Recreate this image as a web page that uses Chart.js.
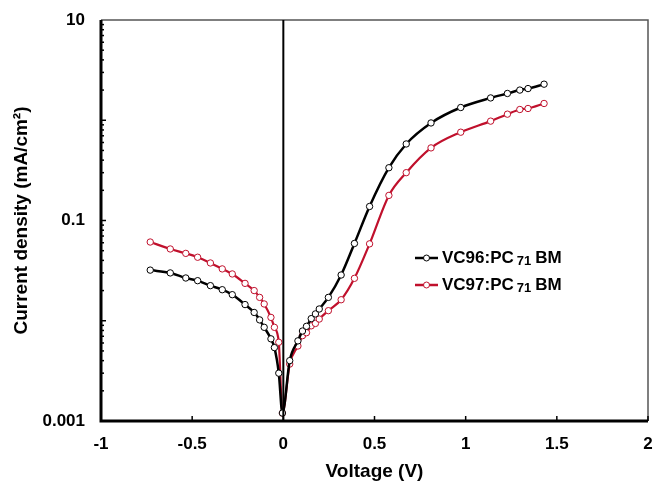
<!DOCTYPE html>
<html>
<head>
<meta charset="utf-8">
<script src="https://cdn.jsdelivr.net/npm/chart.js@4.4.0/dist/chart.umd.min.js"></script>
<style>
  html, body { margin: 0; padding: 0; background: #fff; }
  #wrap { width: 654px; height: 483px; }
</style>
</head>
<body>
<div id="wrap"><canvas id="jvChart" width="654" height="483"></canvas></div>
<script>
// voltage (V) shared by both curves
const voltage = [-0.73, -0.62, -0.535, -0.47, -0.40, -0.335, -0.28, -0.21, -0.16, -0.13,
  -0.105, -0.068, -0.049, -0.025, -0.005, 0.035, 0.08, 0.105, 0.127, 0.153,
  0.176, 0.197, 0.247, 0.317, 0.39, 0.473, 0.579, 0.674, 0.81, 0.973,
  1.137, 1.229, 1.297, 1.342, 1.43];

// current density (mA/cm2)
const vc96 = [0.032, 0.030, 0.0267, 0.0251, 0.0224, 0.0204, 0.0182, 0.0145, 0.0121, 0.0102,
  0.0086, 0.0066, 0.0054, 0.003, 0.0012, 0.004, 0.0063, 0.0079, 0.0088, 0.0105,
  0.0117, 0.0131, 0.0171, 0.0286, 0.059, 0.138, 0.336, 0.58, 0.94, 1.34,
  1.67, 1.85, 2.0, 2.07, 2.29];

const vc97 = [0.061, 0.052, 0.047, 0.043, 0.0377, 0.0329, 0.0293, 0.0236, 0.020, 0.0171,
  0.0147, 0.0108, 0.0086, 0.0061, 0.0012, 0.0037, 0.0056, 0.0071, 0.0076, 0.0089,
  0.0094, 0.0104, 0.0126, 0.0162, 0.0265, 0.0585, 0.178, 0.30, 0.53, 0.76,
  0.98, 1.15, 1.28, 1.31, 1.47];

const seriesNames = ["VC96:PC|71|BM", "VC97:PC|71|BM"];
const seriesColors = ["#000000", "#c0102c"];

const xTicks = [-1, -0.5, 0, 0.5, 1, 1.5, 2];
const yLabelled = [10, 0.1, 0.001];

function toPoints(ys) {
  return voltage.map((v, i) => ({ x: v, y: ys[i] }));
}

const FONT = "'Liberation Sans', Arial, sans-serif";

// frame, zero line, inner ticks and the legend
const framePlugin = {
  id: "frame",
  afterDatasetsDraw(chart) {
    const { ctx, chartArea: a, scales } = chart;
    const xs = scales.x, ys = scales.y;
    ctx.save();

    // top + right thin border
    ctx.strokeStyle = "#555";
    ctx.lineWidth = 1.5;
    ctx.beginPath();
    ctx.moveTo(a.left, a.top);
    ctx.lineTo(a.right, a.top);
    ctx.lineTo(a.right, a.bottom);
    ctx.stroke();

    // x = 0 line
    const x0 = xs.getPixelForValue(0);
    ctx.strokeStyle = "#000";
    ctx.lineWidth = 2;
    ctx.beginPath();
    ctx.moveTo(x0, a.top);
    ctx.lineTo(x0, a.bottom);
    ctx.stroke();

    // y minor / major ticks pointing inward
    ctx.lineWidth = 1.5;
    for (let e = -3; e <= 0; e++) {
      for (let m = 1; m <= 9; m++) {
        const v = m * Math.pow(10, e);
        const py = ys.getPixelForValue(v);
        const len = m === 1 ? 5 : 3;
        ctx.beginPath();
        ctx.moveTo(a.left, py);
        ctx.lineTo(a.left + len, py);
        ctx.stroke();
      }
    }
    // x ticks pointing up
    xTicks.forEach(t => {
      const px = xs.getPixelForValue(t);
      ctx.beginPath();
      ctx.moveTo(px, a.bottom);
      ctx.lineTo(px, a.bottom - 5);
      ctx.stroke();
    });

    // left + bottom thick axes
    ctx.lineWidth = 3;
    ctx.beginPath();
    ctx.moveTo(a.left, a.top);
    ctx.lineTo(a.left, a.bottom);
    ctx.lineTo(a.right, a.bottom);
    ctx.stroke();

    // legend
    const lx = 415, ly = [258, 285];
    seriesNames.forEach((name, i) => {
      const y = ly[i];
      ctx.strokeStyle = seriesColors[i];
      ctx.lineWidth = 2.5;
      ctx.beginPath();
      ctx.moveTo(lx, y);
      ctx.lineTo(lx + 23, y);
      ctx.stroke();
      ctx.fillStyle = "#fff";
      ctx.lineWidth = 1;
      ctx.beginPath();
      ctx.arc(lx + 11.5, y, 3, 0, Math.PI * 2);
      ctx.fill();
      ctx.stroke();

      const parts = name.split("|");
      ctx.fillStyle = "#000";
      ctx.textBaseline = "middle";
      ctx.textAlign = "left";
      let tx = lx + 27;
      ctx.font = "bold 17px " + FONT;
      ctx.fillText(parts[0], tx, y);
      tx += ctx.measureText(parts[0]).width + 3;
      ctx.font = "bold 13px " + FONT;
      ctx.fillText(parts[1], tx, y + 3);
      tx += ctx.measureText(parts[1]).width + 4;
      ctx.font = "bold 17px " + FONT;
      ctx.fillText(parts[2], tx, y);
    });

    ctx.restore();
  }
};

const ctx = document.getElementById("jvChart").getContext("2d");

new Chart(ctx, {
  type: "scatter",
  data: {
    datasets: [
      {
        label: seriesNames[0].replace(/\|/g, ""),
        data: toPoints(vc96),
        borderColor: seriesColors[0],
        backgroundColor: "#fff",
        borderWidth: 2.5,
        pointRadius: 3.2,
        pointBorderWidth: 1,
        pointBackgroundColor: "#fff",
        pointBorderColor: seriesColors[0],
        showLine: true,
        cubicInterpolationMode: "monotone",
        order: 1
      },
      {
        label: seriesNames[1].replace(/\|/g, ""),
        data: toPoints(vc97),
        borderColor: seriesColors[1],
        backgroundColor: "#fff",
        borderWidth: 2.2,
        pointRadius: 3.2,
        pointBorderWidth: 1,
        pointBackgroundColor: "#fff",
        pointBorderColor: seriesColors[1],
        showLine: true,
        cubicInterpolationMode: "monotone",
        order: 2
      }
    ]
  },
  options: {
    responsive: false,
    animation: false,
    layout: { padding: { left: 0, right: 6, top: 20, bottom: 0 } },
    plugins: {
      legend: { display: false },
      tooltip: { enabled: false }
    },
    scales: {
      x: {
        type: "linear",
        min: -1,
        max: 2,
        afterBuildTicks: s => { s.ticks = xTicks.map(v => ({ value: v })); },
        grid: { display: false },
        border: { display: false },
        ticks: {
          color: "#000",
          font: { family: FONT, size: 17, weight: "bold" },
          padding: 5,
          callback: v => String(v)
        },
        title: {
          display: true,
          text: "Voltage (V)",
          color: "#000",
          font: { family: FONT, size: 19, weight: "bold" },
          padding: { top: 4, bottom: 0 }
        },
        afterFit: s => { s.height = 62; s.paddingRight = 0; s.paddingLeft = 0; }
      },
      y: {
        type: "logarithmic",
        min: 0.001,
        max: 10,
        afterBuildTicks: s => { s.ticks = yLabelled.map(v => ({ value: v })); },
        grid: { display: false },
        border: { display: false },
        ticks: {
          color: "#000",
          font: { family: FONT, size: 17, weight: "bold" },
          padding: 8,
          autoSkip: false,
          callback: v => String(v)
        },
        title: {
          display: true,
          text: "Current density (mA/cm²)",
          color: "#000",
          font: { family: FONT, size: 19, weight: "bold" },
          padding: { top: 10, bottom: 0 }
        },
        afterFit: s => { s.width = 101; s.paddingTop = 0; s.paddingBottom = 0; }
      }
    }
  },
  plugins: [framePlugin]
});
</script>
</body>
</html>
